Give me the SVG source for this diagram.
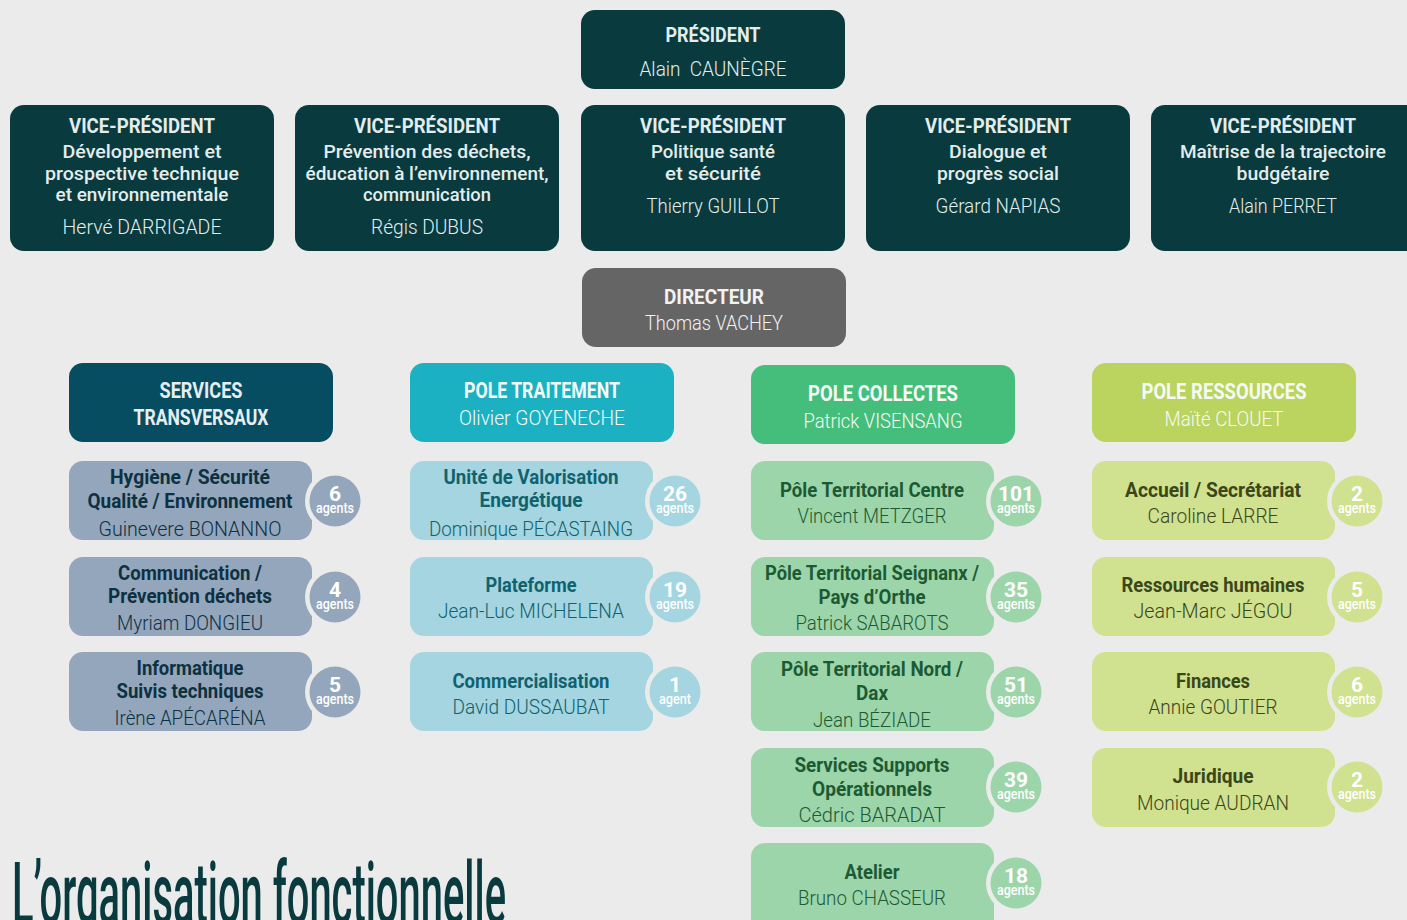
<svg xmlns="http://www.w3.org/2000/svg" width="1407" height="920" viewBox="0 0 1407 920">
<style>
text{font-family:Roboto,"Liberation Sans",Arial,sans-serif;text-anchor:middle}
.b{font-weight:700}.m{font-weight:500}.l{font-weight:300}
.f22{font-size:22px}.f21{font-size:21px}.f20{font-size:20px}.f19{font-size:19px}
.dk rect{fill:#083a3e}.dk text{fill:#e3eded}
.dir rect{fill:#666566}.dir text{fill:#f2f2f2}
.h1 rect{fill:#064d62}.h2 rect{fill:#1bb1c2}.h3 rect{fill:#45be7c}.h4 rect{fill:#bbd35f}
.h1 text{fill:#e6eef1}.h2 text,.h3 text,.h4 text{fill:#f4fbf6}
.ring{fill:#ebebeb}
.s1 rect,.s1 .badge{fill:#94a6bc}.s1 text{fill:#0c3141}
.s2 rect,.s2 .badge{fill:#a4d5e0}.s2 text{fill:#10626e}
.s3 rect,.s3 .badge{fill:#9dd5ab}.s3 text{fill:#1c5a33}
.s4 rect,.s4 .badge{fill:#d0e18f}.s4 text{fill:#3b4719}
.s text.c{fill:#fff}
.n{font-weight:700;font-size:21px}
.a{font-weight:500;font-size:15px}
.title{font-size:40px;font-weight:500;text-anchor:start;fill:#083a3e}
</style>
<rect width="1407" height="920" fill="#ebebeb"/>
<g id="connectors"/>

<g id="president" class="dk">
<rect x="581" y="10" width="264" height="79" rx="14"/>
<text class="b f21" x="713" y="42" textLength="95" lengthAdjust="spacingAndGlyphs">PRÉSIDENT</text>
<text class="l f21" x="713" y="76" textLength="147" lengthAdjust="spacingAndGlyphs">Alain&#160; CAUNÈGRE</text>
</g>

<g id="vp1" class="dk">
<rect x="10" y="105" width="264" height="146" rx="14"/>
<text class="b f21" x="142" y="133" textLength="146" lengthAdjust="spacingAndGlyphs">VICE-PRÉSIDENT</text>
<text class="m f19" x="142" y="158" textLength="159" lengthAdjust="spacingAndGlyphs">Développement et</text>
<text class="m f19" x="142" y="180" textLength="194" lengthAdjust="spacingAndGlyphs">prospective technique</text>
<text class="m f19" x="142" y="201" textLength="173" lengthAdjust="spacingAndGlyphs">et environnementale</text>
<text class="l f20" x="142" y="234" textLength="159" lengthAdjust="spacingAndGlyphs">Hervé DARRIGADE</text>
</g>

<g id="vp2" class="dk">
<rect x="295" y="105" width="264" height="146" rx="14"/>
<text class="b f21" x="427" y="133" textLength="146" lengthAdjust="spacingAndGlyphs">VICE-PRÉSIDENT</text>
<text class="m f19" x="427" y="158" textLength="207" lengthAdjust="spacingAndGlyphs">Prévention des déchets,</text>
<text class="m f19" x="427" y="180" textLength="243" lengthAdjust="spacingAndGlyphs">éducation à l’environnement,</text>
<text class="m f19" x="427" y="201" textLength="128" lengthAdjust="spacingAndGlyphs">communication</text>
<text class="l f20" x="427" y="234" textLength="112" lengthAdjust="spacingAndGlyphs">Régis DUBUS</text>
</g>

<g id="vp3" class="dk">
<rect x="581" y="105" width="264" height="146" rx="14"/>
<text class="b f21" x="713" y="133" textLength="146" lengthAdjust="spacingAndGlyphs">VICE-PRÉSIDENT</text>
<text class="m f19" x="713" y="158" textLength="124" lengthAdjust="spacingAndGlyphs">Politique santé</text>
<text class="m f19" x="713" y="180" textLength="96" lengthAdjust="spacingAndGlyphs">et sécurité</text>
<text class="l f20" x="713" y="213" textLength="133" lengthAdjust="spacingAndGlyphs">Thierry GUILLOT</text>
</g>

<g id="vp4" class="dk">
<rect x="866" y="105" width="264" height="146" rx="14"/>
<text class="b f21" x="998" y="133" textLength="146" lengthAdjust="spacingAndGlyphs">VICE-PRÉSIDENT</text>
<text class="m f19" x="998" y="158" textLength="98" lengthAdjust="spacingAndGlyphs">Dialogue et</text>
<text class="m f19" x="998" y="180" textLength="122" lengthAdjust="spacingAndGlyphs">progrès social</text>
<text class="l f20" x="998" y="213" textLength="125" lengthAdjust="spacingAndGlyphs">Gérard NAPIAS</text>
</g>

<g id="vp5" class="dk">
<rect x="1151" y="105" width="270" height="146" rx="14"/>
<text class="b f21" x="1283" y="133" textLength="146" lengthAdjust="spacingAndGlyphs">VICE-PRÉSIDENT</text>
<text class="m f19" x="1283" y="158" textLength="206" lengthAdjust="spacingAndGlyphs">Maîtrise de la trajectoire</text>
<text class="m f19" x="1283" y="180" textLength="93" lengthAdjust="spacingAndGlyphs">budgétaire</text>
<text class="l f20" x="1283" y="213" textLength="108" lengthAdjust="spacingAndGlyphs">Alain PERRET</text>
</g>

<g id="directeur" class="dir">
<rect x="582" y="268" width="264" height="79" rx="14"/>
<text class="b f21" x="714" y="304" textLength="100" lengthAdjust="spacingAndGlyphs">DIRECTEUR</text>
<text class="l f21" x="714" y="330" textLength="138" lengthAdjust="spacingAndGlyphs">Thomas VACHEY</text>
</g>

<g id="services-transversaux" class="h1">
<rect x="69" y="363" width="264" height="79" rx="14"/>
<text class="b f22" x="201" y="398" textLength="83" lengthAdjust="spacingAndGlyphs">SERVICES</text>
<text class="b f22" x="201" y="425" textLength="135" lengthAdjust="spacingAndGlyphs">TRANSVERSAUX</text>
</g>

<g id="pole-traitement" class="h2">
<rect x="410" y="363" width="264" height="79" rx="14"/>
<text class="b f22" x="542" y="398" textLength="156" lengthAdjust="spacingAndGlyphs">POLE TRAITEMENT</text>
<text class="l f21" x="542" y="425" textLength="166" lengthAdjust="spacingAndGlyphs">Olivier GOYENECHE</text>
</g>

<g id="pole-collectes" class="h3">
<rect x="751" y="365" width="264" height="79" rx="14"/>
<text class="b f22" x="883" y="401" textLength="150" lengthAdjust="spacingAndGlyphs">POLE COLLECTES</text>
<text class="l f21" x="883" y="428" textLength="159" lengthAdjust="spacingAndGlyphs">Patrick VISENSANG</text>
</g>

<g id="pole-ressources" class="h4">
<rect x="1092" y="363" width="264" height="79" rx="14"/>
<text class="b f22" x="1224" y="399" textLength="165" lengthAdjust="spacingAndGlyphs">POLE RESSOURCES</text>
<text class="l f21" x="1224" y="426" textLength="119" lengthAdjust="spacingAndGlyphs">Maïté CLOUET</text>
</g>

<!-- Column 1 -->
<g id="hygiene" class="s s1">
<rect x="69" y="461" width="243" height="79" rx="14"/>
<circle class="ring" cx="335" cy="501" r="30"/><circle class="badge" cx="335" cy="501" r="25.5"/>
<text class="b f20" x="190" y="484" textLength="160" lengthAdjust="spacingAndGlyphs">Hygiène / Sécurité</text>
<text class="b f20" x="190" y="508" textLength="205" lengthAdjust="spacingAndGlyphs">Qualité / Environnement</text>
<text class="l f20" x="190" y="536" textLength="183" lengthAdjust="spacingAndGlyphs">Guinevere BONANNO</text>
<text class="c"><tspan class="n" x="335" y="501">6</tspan><tspan class="a" x="335" y="513" textLength="38" lengthAdjust="spacingAndGlyphs">agents</tspan></text>
</g>
<g id="communication" class="s s1">
<rect x="69" y="557" width="243" height="79" rx="14"/>
<circle class="ring" cx="335" cy="597" r="30"/><circle class="badge" cx="335" cy="597" r="25.5"/>
<text class="b f20" x="190" y="580" textLength="144" lengthAdjust="spacingAndGlyphs">Communication /</text>
<text class="b f20" x="190" y="603" textLength="164" lengthAdjust="spacingAndGlyphs">Prévention déchets</text>
<text class="l f20" x="190" y="630" textLength="146" lengthAdjust="spacingAndGlyphs">Myriam DONGIEU</text>
<text class="c"><tspan class="n" x="335" y="597">4</tspan><tspan class="a" x="335" y="609" textLength="38" lengthAdjust="spacingAndGlyphs">agents</tspan></text>
</g>
<g id="informatique" class="s s1">
<rect x="69" y="652" width="243" height="79" rx="14"/>
<circle class="ring" cx="335" cy="692" r="30"/><circle class="badge" cx="335" cy="692" r="25.5"/>
<text class="b f20" x="190" y="675" textLength="107" lengthAdjust="spacingAndGlyphs">Informatique</text>
<text class="b f20" x="190" y="698" textLength="147" lengthAdjust="spacingAndGlyphs">Suivis techniques</text>
<text class="l f20" x="190" y="725" textLength="151" lengthAdjust="spacingAndGlyphs">Irène APÉCARÉNA</text>
<text class="c"><tspan class="n" x="335" y="692">5</tspan><tspan class="a" x="335" y="704" textLength="38" lengthAdjust="spacingAndGlyphs">agents</tspan></text>
</g>

<!-- Column 2 -->
<g id="uve" class="s s2">
<rect x="410" y="461" width="243" height="79" rx="14"/>
<circle class="ring" cx="675" cy="501" r="30"/><circle class="badge" cx="675" cy="501" r="25.5"/>
<text class="b f20" x="531" y="484" textLength="175" lengthAdjust="spacingAndGlyphs">Unité de Valorisation</text>
<text class="b f20" x="531" y="507" textLength="103" lengthAdjust="spacingAndGlyphs">Energétique</text>
<text class="l f20" x="531" y="536" textLength="204" lengthAdjust="spacingAndGlyphs">Dominique PÉCASTAING</text>
<text class="c"><tspan class="n" x="675" y="501">26</tspan><tspan class="a" x="675" y="513" textLength="38" lengthAdjust="spacingAndGlyphs">agents</tspan></text>
</g>
<g id="plateforme" class="s s2">
<rect x="410" y="557" width="243" height="79" rx="14"/>
<circle class="ring" cx="675" cy="597" r="30"/><circle class="badge" cx="675" cy="597" r="25.5"/>
<text class="b f20" x="531" y="592" textLength="91" lengthAdjust="spacingAndGlyphs">Plateforme</text>
<text class="l f20" x="531" y="618" textLength="186" lengthAdjust="spacingAndGlyphs">Jean-Luc MICHELENA</text>
<text class="c"><tspan class="n" x="675" y="597">19</tspan><tspan class="a" x="675" y="609" textLength="38" lengthAdjust="spacingAndGlyphs">agents</tspan></text>
</g>
<g id="commercialisation" class="s s2">
<rect x="410" y="652" width="243" height="79" rx="14"/>
<circle class="ring" cx="675" cy="692" r="30"/><circle class="badge" cx="675" cy="692" r="25.5"/>
<text class="b f20" x="531" y="688" textLength="157" lengthAdjust="spacingAndGlyphs">Commercialisation</text>
<text class="l f20" x="531" y="714" textLength="157" lengthAdjust="spacingAndGlyphs">David DUSSAUBAT</text>
<text class="c"><tspan class="n" x="675" y="692">1</tspan><tspan class="a" x="675" y="704" textLength="32" lengthAdjust="spacingAndGlyphs">agent</tspan></text>
</g>

<!-- Column 3 -->
<g id="pt-centre" class="s s3">
<rect x="751" y="461" width="243" height="79" rx="14"/>
<circle class="ring" cx="1016" cy="501" r="30"/><circle class="badge" cx="1016" cy="501" r="25.5"/>
<text class="b f20" x="872" y="497" textLength="184" lengthAdjust="spacingAndGlyphs">Pôle Territorial Centre</text>
<text class="l f20" x="872" y="523" textLength="149" lengthAdjust="spacingAndGlyphs">Vincent METZGER</text>
<text class="c"><tspan class="n" x="1016" y="501">101</tspan><tspan class="a" x="1016" y="513" textLength="38" lengthAdjust="spacingAndGlyphs">agents</tspan></text>
</g>
<g id="pt-seignanx" class="s s3">
<rect x="751" y="557" width="243" height="79" rx="14"/>
<circle class="ring" cx="1016" cy="597" r="30"/><circle class="badge" cx="1016" cy="597" r="25.5"/>
<text class="b f20" x="872" y="580" textLength="214" lengthAdjust="spacingAndGlyphs">Pôle Territorial Seignanx /</text>
<text class="b f20" x="872" y="604" textLength="107" lengthAdjust="spacingAndGlyphs">Pays d’Orthe</text>
<text class="l f20" x="872" y="630" textLength="153" lengthAdjust="spacingAndGlyphs">Patrick SABAROTS</text>
<text class="c"><tspan class="n" x="1016" y="597">35</tspan><tspan class="a" x="1016" y="609" textLength="38" lengthAdjust="spacingAndGlyphs">agents</tspan></text>
</g>
<g id="pt-nord" class="s s3">
<rect x="751" y="652" width="243" height="79" rx="14"/>
<circle class="ring" cx="1016" cy="692" r="30"/><circle class="badge" cx="1016" cy="692" r="25.5"/>
<text class="b f20" x="872" y="676" textLength="182" lengthAdjust="spacingAndGlyphs">Pôle Territorial Nord /</text>
<text class="b f20" x="872" y="700" textLength="32" lengthAdjust="spacingAndGlyphs">Dax</text>
<text class="l f20" x="872" y="727" textLength="118" lengthAdjust="spacingAndGlyphs">Jean BÉZIADE</text>
<text class="c"><tspan class="n" x="1016" y="692">51</tspan><tspan class="a" x="1016" y="704" textLength="38" lengthAdjust="spacingAndGlyphs">agents</tspan></text>
</g>
<g id="supports" class="s s3">
<rect x="751" y="748" width="243" height="79" rx="14"/>
<circle class="ring" cx="1016" cy="787" r="30"/><circle class="badge" cx="1016" cy="787" r="25.5"/>
<text class="b f20" x="872" y="772" textLength="155" lengthAdjust="spacingAndGlyphs">Services Supports</text>
<text class="b f20" x="872" y="796" textLength="120" lengthAdjust="spacingAndGlyphs">Opérationnels</text>
<text class="l f20" x="872" y="822" textLength="147" lengthAdjust="spacingAndGlyphs">Cédric BARADAT</text>
<text class="c"><tspan class="n" x="1016" y="787">39</tspan><tspan class="a" x="1016" y="799" textLength="38" lengthAdjust="spacingAndGlyphs">agents</tspan></text>
</g>
<g id="atelier" class="s s3">
<rect x="751" y="843" width="243" height="90" rx="14"/>
<circle class="ring" cx="1016" cy="883" r="30"/><circle class="badge" cx="1016" cy="883" r="25.5"/>
<text class="b f20" x="872" y="879" textLength="55" lengthAdjust="spacingAndGlyphs">Atelier</text>
<text class="l f20" x="872" y="905" textLength="148" lengthAdjust="spacingAndGlyphs">Bruno CHASSEUR</text>
<text class="c"><tspan class="n" x="1016" y="883">18</tspan><tspan class="a" x="1016" y="895" textLength="38" lengthAdjust="spacingAndGlyphs">agents</tspan></text>
</g>

<!-- Column 4 -->
<g id="accueil" class="s s4">
<rect x="1092" y="461" width="243" height="79" rx="14"/>
<circle class="ring" cx="1357" cy="501" r="30"/><circle class="badge" cx="1357" cy="501" r="25.5"/>
<text class="b f20" x="1213" y="497" textLength="176" lengthAdjust="spacingAndGlyphs">Accueil / Secrétariat</text>
<text class="l f20" x="1213" y="523" textLength="131" lengthAdjust="spacingAndGlyphs">Caroline LARRE</text>
<text class="c"><tspan class="n" x="1357" y="501">2</tspan><tspan class="a" x="1357" y="513" textLength="38" lengthAdjust="spacingAndGlyphs">agents</tspan></text>
</g>
<g id="rh" class="s s4">
<rect x="1092" y="557" width="243" height="79" rx="14"/>
<circle class="ring" cx="1357" cy="597" r="30"/><circle class="badge" cx="1357" cy="597" r="25.5"/>
<text class="b f20" x="1213" y="592" textLength="183" lengthAdjust="spacingAndGlyphs">Ressources humaines</text>
<text class="l f20" x="1213" y="618" textLength="159" lengthAdjust="spacingAndGlyphs">Jean-Marc JÉGOU</text>
<text class="c"><tspan class="n" x="1357" y="597">5</tspan><tspan class="a" x="1357" y="609" textLength="38" lengthAdjust="spacingAndGlyphs">agents</tspan></text>
</g>
<g id="finances" class="s s4">
<rect x="1092" y="652" width="243" height="79" rx="14"/>
<circle class="ring" cx="1357" cy="692" r="30"/><circle class="badge" cx="1357" cy="692" r="25.5"/>
<text class="b f20" x="1213" y="688" textLength="74" lengthAdjust="spacingAndGlyphs">Finances</text>
<text class="l f20" x="1213" y="714" textLength="129" lengthAdjust="spacingAndGlyphs">Annie GOUTIER</text>
<text class="c"><tspan class="n" x="1357" y="692">6</tspan><tspan class="a" x="1357" y="704" textLength="38" lengthAdjust="spacingAndGlyphs">agents</tspan></text>
</g>
<g id="juridique" class="s s4">
<rect x="1092" y="748" width="243" height="79" rx="14"/>
<circle class="ring" cx="1357" cy="787" r="30"/><circle class="badge" cx="1357" cy="787" r="25.5"/>
<text class="b f20" x="1213" y="783" textLength="81" lengthAdjust="spacingAndGlyphs">Juridique</text>
<text class="l f20" x="1213" y="810" textLength="152" lengthAdjust="spacingAndGlyphs">Monique AUDRAN</text>
<text class="c"><tspan class="n" x="1357" y="787">2</tspan><tspan class="a" x="1357" y="799" textLength="38" lengthAdjust="spacingAndGlyphs">agents</tspan></text>
</g>

<text id="title" class="title" transform="translate(12 924) scale(1 2.18)" x="0" y="0" textLength="494" lengthAdjust="spacingAndGlyphs">L’organisation fonctionnelle</text>
</svg>
